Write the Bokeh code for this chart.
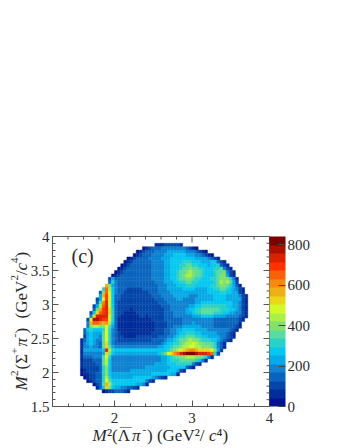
import math
from bokeh.embed import file_html
from bokeh.resources import INLINE
from bokeh.plotting import figure
from bokeh.models import (ColumnDataSource, LinearColorMapper, ColorBar, FixedTicker,
                          Range1d, Label)
from bokeh.transform import transform

X_START, X_BIN = 1.2, 0.04
Y_TOP, Y_BIN = 3.9, 0.05
COUNT_MAX = 841
COLORBAR_TICKS = [0, 200, 400, 600, 800]
X_TICKS = [2, 3, 4]
Y_TICKS = [1.5, 2, 2.5, 3, 3.5, 4]
X_MINOR = [1.2, 1.4, 1.6, 1.8, 2.2, 2.4, 2.6, 2.8, 3.2, 3.4, 3.6, 3.8]
Y_MINOR = [1.6, 1.7, 1.8, 1.9, 2.1, 2.2, 2.3, 2.4, 2.6, 2.7, 2.8, 2.9, 3.1, 3.2, 3.3, 3.4,
           3.6, 3.7, 3.8, 3.9]

PALETTE = ["#05148c", "#002d9b", "#0546aa", "#0a64be", "#0f82d2", "#05aae6", "#05c8f0", "#28d2c8",
           "#5adca0", "#82e16e", "#aaf046", "#d2fa28", "#ebd719", "#f0af14", "#f58c0f", "#fa5f0a",
           "#ff3200", "#d72300", "#aa0f00", "#7d0000"]

# palette level (base 20) of each histogram bin, one row per y bin from the top,
# in groups of ten x bins; "." is an empty bin
LEVELS = [
    ".......... .......... .......... ...1112222 21........ .......... ..........",
    ".......... .......... .........0 1233344444 4443210... .......... ..........",
    ".......... .......... .......012 3334444555 5554443210 .......... ..........",
    ".......... .......... ......0123 3344445556 6665554432 10........ ..........",
    ".......... .......... ....012333 3444455566 6666665555 4321...... ..........",
    ".......... .......... ...0123333 3344445566 6677766655 566321.... ..........",
    ".......... .......... ..01233333 3344445566 6778877666 5667321... ..........",
    ".......... .......... .012333333 3344445566 6788988776 66778421.. ..........",
    ".......... .......... 0123333333 3344445566 7889a98876 667889421. ..........",
    ".......... .........0 1233333333 3344445566 789aa98876 667899521. ..........",
    ".......... ........25 3333333333 3344445566 7889987766 6778999741 ..........",
    ".......... ........37 4333333333 3334445556 6778877666 6678a9a852 ..........",
    ".......... .......d95 4333333333 3333444555 6667776666 6778998753 1.........",
    ".......... ......7fa6 4333222223 3333444555 5566665555 6677887654 21........",
    ".......... .....39fb6 4332222222 2333444455 5555555555 6666776655 21........",
    ".......... .....5dgb6 3322222222 2233344445 5555444555 5566665555 421.......",
    ".......... ....25bgb6 3322222222 2223334444 5544445555 5566665555 521.......",
    ".......... ....38ehb6 3222222222 2222333444 4444445566 6666666655 421.......",
    ".......... ...25afhb6 3222222222 2222233344 4444556677 7777776655 421.......",
    ".......... ...38dghc7 3222212222 2222223344 4445667788 8888777665 421.......",
    ".......... ..26cfghc7 3221111222 2222223334 4445567788 8877766554 421.......",
    ".......... ..4chhhhb7 3211111122 1222223334 4444455566 6655554444 321.......",
    ".......... .2biihggb7 3111111111 1122223333 3344444444 4433333333 21........",
    ".......... .4dffedea6 3111111111 1112222333 3344454444 4433333333 1.........",
    ".......... .49aa99b85 3111111111 1112222334 4455555544 4433333332 1.........",
    ".......... 3676667b74 3111111111 1112223344 5566665555 4444444321 ..........",
    ".......... 3565558b74 3211111111 1122223344 5667776655 555444321. ..........",
    ".......... 2565548b74 3221111222 2222333445 6778887766 555544321. ..........",
    ".........1 3565448b74 3222222222 2233334556 7889a99877 76654321.. ..........",
    ".........1 4565438c74 3333333333 3333345667 789aaba998 887431.... ..........",
    ".........1 4454438c85 4444444444 4444556678 89aabbaa99 987431.... ..........",
    ".........1 5555556ha7 6666666666 6666666789 abcdeedccc cb952..... ..........",
    ".........1 4444445c96 5555555555 5555678bce fhijjjihhh gf72...... ..........",
    ".........1 3334448b74 4444444444 4444455678 899aaa9987 41........ ..........",
    ".........1 2223338a64 4444444444 4444455677 7888887641 .......... ..........",
    ".........1 2222338a64 4444444444 4445555666 77777421.. .......... ..........",
    ".........1 2222237964 4444444444 5555555566 666321.... .......... ..........",
    ".........0 1222237964 4444455555 5555555666 521....... .......... ..........",
    ".........0 1122337965 5555555555 5566666655 1......... .......... ..........",
    ".......... 0122337a75 5555556666 6654321... .......... .......... ..........",
    ".......... .012337b86 6666666666 421....... .......... .......... ..........",
    ".......... ...0238da7 6666666554 1......... .......... .......... ..........",
    ".......... ....136c96 55443321.. .......... .......... .......... ..........",
    ".......... ......0122 33321..... .......... .......... .......... ..........",
]

left, right, top, bottom, counts = [], [], [], [], []
for r, row in enumerate(LEVELS):
    for i, ch in enumerate(row.replace(" ", "")):
        if ch == ".":
            continue
        left.append(X_START + i * X_BIN)
        right.append(X_START + (i + 1) * X_BIN)
        top.append(Y_TOP - r * Y_BIN)
        bottom.append(Y_TOP - (r + 1) * Y_BIN)
        counts.append((int(ch, 20) + 0.5) * COUNT_MAX / 20)
source = ColumnDataSource(dict(left=left, right=right, top=top, bottom=bottom, count=counts))

INK = "#2a2a2a"
FRAME = "#555555"
SERIF = "Liberation Serif"

p = figure(width=346, height=448, output_backend="svg", toolbar_location=None,
           x_range=Range1d(1.2, 4), y_range=Range1d(1.5, 4),
           min_border_left=52, min_border_right=77, min_border_top=236, min_border_bottom=42,
           background_fill_color="white", border_fill_color="white")
p.grid.visible = False
p.outline_line_color = FRAME
p.outline_line_width = 1

mapper = LinearColorMapper(palette=PALETTE, low=0, high=COUNT_MAX)
p.quad(left="left", right="right", top="top", bottom="bottom", source=source,
       fill_color=transform("count", mapper), line_color=transform("count", mapper), line_width=0.4)


def style(ax):
    ax.axis_line_color = FRAME
    ax.major_tick_line_color = FRAME
    ax.minor_tick_line_color = FRAME
    ax.major_tick_in = 6
    ax.major_tick_out = 0
    ax.minor_tick_in = 3
    ax.minor_tick_out = 0
    ax.major_label_text_font = SERIF
    ax.major_label_text_font_size = "15px"
    ax.major_label_text_font_style = "normal"
    ax.major_label_text_color = INK
    ax.major_label_standoff = 3


xa = p.xaxis[0]
xa.ticker = FixedTicker(ticks=X_TICKS, minor_ticks=X_MINOR)
style(xa)
xa.major_label_standoff = 6
ya = p.yaxis[0]
ya.ticker = FixedTicker(ticks=Y_TICKS, minor_ticks=Y_MINOR)
ya.major_label_overrides = {1.5: "1.5", 2: "2", 2.5: "2.5", 3: "3", 3.5: "3.5", 4: "4"}
style(ya)

# ticks mirrored on the top and right edges of the frame
p.segment(x0=X_TICKS, x1=X_TICKS, y0=[4] * 3, y1=[4 - 6 / 68] * 3, line_color=FRAME)
p.segment(x0=X_MINOR, x1=X_MINOR, y0=[4] * len(X_MINOR), y1=[4 - 3 / 68] * len(X_MINOR), line_color=FRAME)
p.segment(y0=Y_TICKS, y1=Y_TICKS, x0=[4] * 6, x1=[4 - 6 / 77.5] * 6, line_color=FRAME)
p.segment(y0=Y_MINOR, y1=Y_MINOR, x0=[4] * len(Y_MINOR), x1=[4 - 3 / 77.5] * len(Y_MINOR), line_color=FRAME)

bar = ColorBar(color_mapper=mapper, ticker=FixedTicker(ticks=COLORBAR_TICKS), width=16,
               padding=0, margin=0, label_standoff=2,
               major_label_text_font=SERIF, major_label_text_font_size="15px",
               major_label_text_color=INK,
               major_tick_line_color="#444444", major_tick_in=7, minor_tick_line_color=None,
               bar_line_color=None, border_line_color=None, background_fill_color=None)
p.add_layout(bar, "right")

p.add_layout(Label(x=71, y=266, x_units="canvas", y_units="canvas", text="(c)", text_font=SERIF,
                   text_font_size="20px", text_color=INK))


# Labels in a side panel are not clipped to the frame; canvas units place them freely.
def put(px, py, text, size=17, style_="normal", angle=0.0, side="above"):
    p.add_layout(Label(x=px, y=py, x_units="canvas", y_units="canvas",
                       text=text, text_font=SERIF, text_font_size=f"{size}px",
                       text_font_style=style_, text_color=INK, angle=angle,
                       text_align="left", text_baseline="alphabetic"), side)


# x-axis title
bx = 435
put(92, bx, "M", 17, "italic")
put(106.5, bx, "\u00b2(\u039b")
put(119.3, bx - 10, "\u2014", 12)
put(131.5, bx, "\u03c0", 17, "italic")
put(142, bx - 6, "-", 11)
put(146.5, bx, ")  (GeV\u00b2/")
put(208.5, bx, "c", 17, "italic")
put(216, bx, "\u2074)")

# y-axis title
ax_ = 21
sup = 14
up = math.pi / 2
put(ax_, 390, "M", 17, "italic", up)
put(sup, 375.5, "2", 11, "normal", up)
put(ax_, 369, "(\u03a3", 17, "normal", up)
put(sup, 353.5, "+", 11, "normal", up)
put(ax_, 346, "\u03c0", 17, "italic", up)
put(sup, 337, "-", 11, "normal", up)
put(ax_, 333, ")", 17, "normal", up)
put(ax_, 318, "(GeV", 17, "normal", up, side="right")
put(sup, 280, "2", 11, "normal", up)
put(ax_, 274.5, "/", 17, "normal", up)
put(ax_, 270, "c", 17, "italic", up)
put(sup, 262.5, "4", 11, "normal", up)
put(ax_, 257, ")", 17, "normal", up)

open("out.html", "w").write(file_html(p, INLINE))
